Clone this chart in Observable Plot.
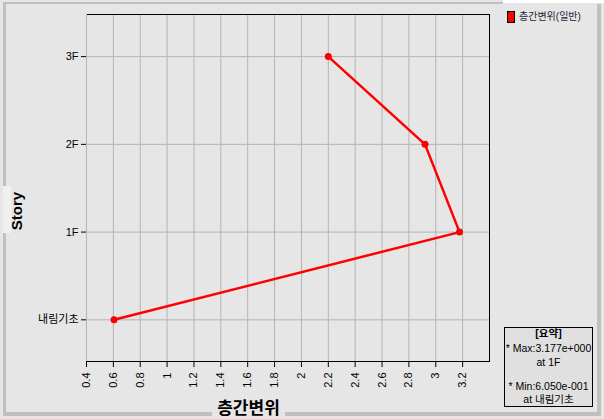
<!DOCTYPE html>
<html>
<head>
<meta charset="utf-8">
<script src="https://cdn.jsdelivr.net/npm/d3@7"></script>
<script src="https://cdn.jsdelivr.net/npm/@observablehq/plot@0.6"></script>
<style>
  html, body { margin: 0; padding: 0; background: #ffffff; }
  #wrap { position: relative; width: 604px; height: 419px; background: #e6e6e6; overflow: hidden; }
  #wrap svg { position: absolute; left: 0; top: 0; }
</style>
</head>
<body>
<div id="wrap"></div>
<script>
// ---- data ----
const stories = ["내림기초", "1F", "2F", "3F"];
const storyIdx = [0, 1, 2, 3];
const drift = [0.605, 3.177, 2.92, 2.2];
const xTicks = [0.4, 0.6, 0.8, 1, 1.2, 1.4, 1.6, 1.8, 2, 2.2, 2.4, 2.6, 2.8, 3, 3.2];
const xDomain = [0.4, 3.4];
const yDomain = [-0.475, 3.48];
const seriesName = "층간변위(일반)";
const xTitle = "층간변위";
const yTitle = "Story";
const summaryLines = ["[요약]", "* Max:3.177e+000", "at 1F", "", "* Min:6.050e-001", "at 내림기초"];

const data = storyIdx.map(i => ({ idx: i, story: stories[i], drift: drift[i] }));

const W = 604, H = 419;
const font = "'Liberation Sans', 'Noto Sans CJK KR', sans-serif";
const gridColor = "#b4b4b4";
const fmt = d3.format("~g");

const chart = Plot.plot({
  width: W, height: H,
  marginLeft: 86, marginRight: 115, marginTop: 14, marginBottom: 58,
  style: { background: "transparent", fontFamily: font, fontSize: "11px", color: "black" },
  x: { domain: xDomain, label: null },
  y: { domain: yDomain, label: null },
  marks: [
    Plot.gridX(xTicks, { stroke: gridColor, strokeOpacity: 1 }),
    Plot.gridY(storyIdx, { stroke: gridColor, strokeOpacity: 1 }),
    Plot.frame({ stroke: "black" }),
    Plot.ruleX([xDomain[0]], { stroke: gridColor }),
    Plot.axisX({ ticks: xTicks, tickFormat: fmt, tickRotate: -90, tickSize: 6, tickPadding: 5, label: null, fontSize: 11 }),
    Plot.axisY({ ticks: storyIdx, tickFormat: i => stories[i], tickSize: 5, tickPadding: 3, label: null, fontSize: 11 }),
    Plot.line(data, { x: "drift", y: "idx", stroke: "#ff0000", strokeWidth: 2.5 }),
    Plot.dot(data, { x: "drift", y: "idx", r: 3.5, fill: "#ff0000", stroke: "none" })
  ]
});
document.getElementById("wrap").appendChild(chart);

// ---- decorations: borders, titles, legend, summary ----
const svg = d3.select("#wrap").append("svg").attr("width", W).attr("height", H)
  .style("font-family", font);
const border = "#c0c0c0";
svg.append("rect").attr("x", 503).attr("y", 0).attr("width", 101).attr("height", 3).attr("fill", "#ffffff");
svg.append("rect").attr("x", 3).attr("y", 2).attr("width", 500).attr("height", 2).attr("fill", border);
svg.append("rect").attr("x", 3).attr("y", 2).attr("width", 3).attr("height", 413).attr("fill", border);
svg.append("rect").attr("x", 3).attr("y", 412).attr("width", 598).attr("height", 4).attr("fill", border);
svg.append("rect").attr("x", 597).attr("y", 4).attr("width", 4).attr("height", 412).attr("fill", border);

// y title box + text
svg.append("rect").attr("x", 3).attr("y", 186).attr("width", 8).attr("height", 47).attr("fill", "#f0f0f0");
svg.append("text").attr("transform", "translate(22,211) rotate(-90)")
  .attr("text-anchor", "middle").attr("font-size", 15).attr("font-weight", "bold").text(yTitle);

// x title box + text
svg.append("rect").attr("x", 212).attr("y", 392).attr("width", 73).attr("height", 27).attr("fill", "#e6e6e6");
svg.append("text").attr("x", 248.5).attr("y", 414)
  .attr("text-anchor", "middle").attr("font-size", 17).attr("font-weight", "bold")
  .attr("font-family", "'Noto Sans CJK KR', sans-serif").text(xTitle);

// legend
svg.append("rect").attr("x", 507.5).attr("y", 11.5).attr("width", 7).attr("height", 11)
  .attr("fill", "#ff0000").attr("stroke", "black");
svg.append("text").attr("x", 519).attr("y", 20).attr("font-size", 10)
  .attr("fill", "#1c2438").text(seriesName);

// summary box
svg.append("rect").attr("x", 504.5).attr("y", 327.5).attr("width", 88).attr("height", 79)
  .attr("fill", "#e0e0e0").attr("stroke", "black");
const ys = [337, 352, 366, 380, 390, 403];
summaryLines.forEach((t, i) => {
  if (!t) return;
  svg.append("text").attr("x", 548.5).attr("y", ys[i]).attr("text-anchor", "middle")
    .attr("font-size", 10.5).attr("font-weight", i === 0 ? "bold" : "normal").text(t);
});
</script>
</body>
</html>
